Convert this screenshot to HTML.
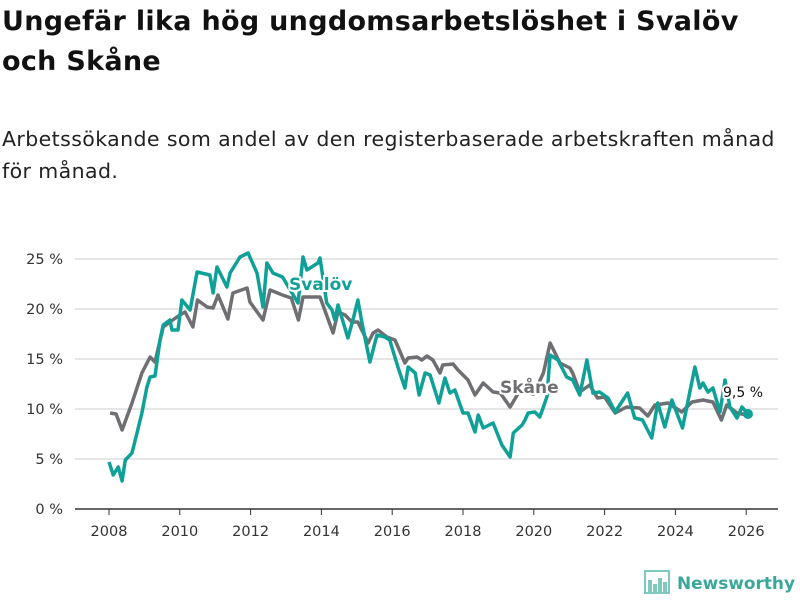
<!DOCTYPE html>
<html><head><meta charset="utf-8"><style>
body{margin:0;background:#fff;font-family:"Liberation Sans","DejaVu Sans",sans-serif;}
#wrap{position:relative;width:800px;height:600px;overflow:hidden;}
h1{position:absolute;left:2px;top:2px;margin:0;font-size:27px;line-height:40px;font-weight:bold;color:#111;width:790px;white-space:nowrap;font-family:"DejaVu Sans",sans-serif;letter-spacing:0.3px}
.sub{position:absolute;left:2px;top:123px;margin:0;font-size:20.5px;line-height:32px;color:#222;width:798px;white-space:nowrap;font-family:"DejaVu Sans",sans-serif;letter-spacing:0.4px}
svg{position:absolute;left:0;top:0}
</style></head><body><div id="wrap">
<h1>Ungefär lika hög ungdomsarbetslöshet i Svalöv<br>och Skåne</h1>
<p class="sub">Arbetssökande som andel av den registerbaserade arbetskraften månad<br>för månad.</p>
<svg id="chart" width="800" height="600"></svg>
</div>
<script>
const skaneX=[2008.03,2008.2,2008.37,2008.65,2008.93,2009.16,2009.3,2009.53,2009.72,2010.0,2010.15,2010.37,2010.5,2010.77,2010.94,2011.08,2011.36,2011.5,2011.9,2011.98,2012.35,2012.55,2012.9,2013.15,2013.35,2013.48,2013.96,2014.33,2014.47,2014.67,2014.86,2015.03,2015.32,2015.46,2015.6,2015.85,2016.08,2016.36,2016.45,2016.7,2016.84,2016.98,2017.15,2017.35,2017.43,2017.72,2017.86,2018.14,2018.34,2018.57,2018.85,2019.05,2019.33,2019.6,2020.0,2020.27,2020.46,2020.74,2021.02,2021.1,2021.3,2021.58,2021.8,2022.0,2022.3,2022.62,2022.99,2023.22,2023.42,2023.79,2024.18,2024.47,2024.78,2025.06,2025.3,2025.45,2025.74,2026.02];
const skaneY=[9.6,9.5,7.9,10.6,13.6,15.2,14.7,18.2,18.7,19.4,19.7,18.2,20.9,20.2,20.1,21.4,19,21.6,22.1,20.7,18.9,21.9,21.4,21.1,18.9,21.2,21.2,17.6,19.7,19.4,18.7,18.7,16.6,17.6,17.9,17.2,16.9,14.6,15.1,15.2,14.9,15.3,14.9,13.6,14.4,14.5,13.9,12.9,11.4,12.6,11.7,11.6,10.2,11.8,11.5,13.6,16.6,14.6,14.1,13.6,11.7,12.4,11.1,11.2,9.6,10.2,10.1,9.3,10.4,10.6,9.7,10.7,10.9,10.7,8.9,10.4,9.6,9.4];
const svalovX=[2008.0,2008.12,2008.26,2008.37,2008.46,2008.65,2008.79,2008.93,2009.07,2009.16,2009.3,2009.44,2009.53,2009.72,2009.78,2009.95,2010.06,2010.29,2010.49,2010.85,2010.94,2011.05,2011.33,2011.42,2011.7,2011.93,2012.18,2012.35,2012.46,2012.63,2012.9,2013.34,2013.48,2013.59,2013.9,2013.96,2014.15,2014.3,2014.38,2014.47,2014.75,2014.89,2015.03,2015.14,2015.37,2015.57,2015.79,2015.93,2016.16,2016.36,2016.45,2016.65,2016.76,2016.93,2017.07,2017.32,2017.49,2017.63,2017.77,2018.0,2018.14,2018.34,2018.43,2018.57,2018.85,2019.1,2019.33,2019.42,2019.67,2019.75,2019.84,2020.03,2020.17,2020.37,2020.46,2020.68,2020.93,2021.1,2021.3,2021.5,2021.67,2021.86,2022.1,2022.3,2022.65,2022.85,2023.07,2023.33,2023.5,2023.7,2023.9,2024.2,2024.55,2024.69,2024.78,2024.92,2025.06,2025.26,2025.4,2025.54,2025.74,2025.88,2026.05];
const svalovY=[4.7,3.4,4.2,2.8,4.9,5.6,7.6,9.6,12.2,13.2,13.3,16.9,18.4,18.9,17.9,17.9,20.9,19.9,23.7,23.4,21.6,24.2,22.2,23.6,25.2,25.6,23.6,20.2,24.6,23.6,23.2,20.6,25.2,23.9,24.6,25.1,20.6,19.9,18.9,20.4,17.1,18.9,20.9,18.7,14.7,17.4,17.2,16.9,14.2,12.1,14.2,13.6,11.4,13.6,13.4,10.6,13.1,11.6,11.9,9.6,9.6,7.7,9.4,8.1,8.6,6.4,5.2,7.6,8.4,8.9,9.6,9.7,9.2,11.2,15.4,14.9,13.2,12.9,11.4,14.9,11.6,11.7,11.1,9.7,11.6,9.1,8.9,7.1,10.6,8.2,10.9,8.1,14.2,12.1,12.6,11.7,12.1,9.7,12.9,10.2,9.1,10.2,9.5];
const yTicks=[0,5,10,15,20,25];
const xTicks=[2008,2010,2012,2014,2016,2018,2020,2022,2024,2026];
const lastLabel="9,5 %";
const NS="http://www.w3.org/2000/svg";
const svg=document.getElementById('chart');
const xs=v=>109+(v-2008)*35.4;
const ys=v=>509-v*10;
function mk(t,a){const e=document.createElementNS(NS,t);for(const k in a)e.setAttribute(k,a[k]);svg.appendChild(e);return e;}
yTicks.forEach(t=>{
 const g=mk('line',{x1:75,x2:778,y1:ys(t),y2:ys(t),stroke:t===0?'#333':'#ddd','stroke-width':1.5});
 
 
 const l=mk('text',{x:63,y:ys(t)+5,'text-anchor':'end','font-size':14.5,fill:'#333','font-family':'DejaVu Sans,sans-serif'});
 l.textContent=t+' %';
 
 
});
xTicks.forEach(t=>{
 const m=mk('line',{x1:xs(t),x2:xs(t),y1:509,y2:515,stroke:'#333','stroke-width':1});
 
 
 const l=mk('text',{x:xs(t),y:536,'text-anchor':'middle','font-size':14.5,fill:'#333','font-family':'DejaVu Sans,sans-serif'});
 l.textContent=t;
 
 
});
function line(X,Y,c,name){
 const d=X.map((x,i)=>(i?'L':'M')+xs(x).toFixed(1)+','+ys(Y[i]).toFixed(1)).join('');
 const p=mk('path',{d:d,fill:'none',stroke:c,'stroke-width':3.5,'stroke-linejoin':'round'});
 
 
}
line(skaneX,skaneY,'#6f6f73','skane-line');
line(svalovX,svalovY,'#0fa197','svalov-line');
function lab(x,y,t,c,name,size,w){
 const e=mk('text',{x:x,y:y,'font-size':size,'font-weight':w,fill:c,stroke:'#fff','stroke-width':4,'paint-order':'stroke','font-family':'DejaVu Sans,sans-serif'});
 e.textContent=t;
 
 
}
lab(289,290,'Svalöv','#0fa197','svalov-label',17,'bold');
lab(500,393,'Skåne','#6f6f73','skane-label',17,'bold');
const n=svalovX.length-1;
const dot=mk('circle',{cx:xs(svalovX[n]),cy:ys(svalovY[n]),r:5,fill:'#0fa197'});


lab(723,397,lastLabel,'#111','last-value-label',14,'normal');
const ic=mk('g',{});


[[0,8],[5,4],[10,10],[15,6]].forEach(([dx,h])=>{const r=document.createElementNS(NS,'rect');r.setAttribute('x',648+dx);r.setAttribute('y',592-h-4);r.setAttribute('width',4);r.setAttribute('height',h+4);r.setAttribute('fill','#7fc9bf');ic.appendChild(r);});
const fr=document.createElementNS(NS,'rect');fr.setAttribute('x',645);fr.setAttribute('y',571);fr.setAttribute('width',24);fr.setAttribute('height',22);fr.setAttribute('fill','none');fr.setAttribute('stroke','#7fc9bf');fr.setAttribute('stroke-width',2);ic.appendChild(fr);
const nt=mk('text',{x:677,y:589,'font-size':17,'font-weight':'bold',fill:'#3aa79b','font-family':'DejaVu Sans,sans-serif',textLength:118,lengthAdjust:'spacingAndGlyphs'});
nt.textContent='Newsworthy';


</script></body></html>
